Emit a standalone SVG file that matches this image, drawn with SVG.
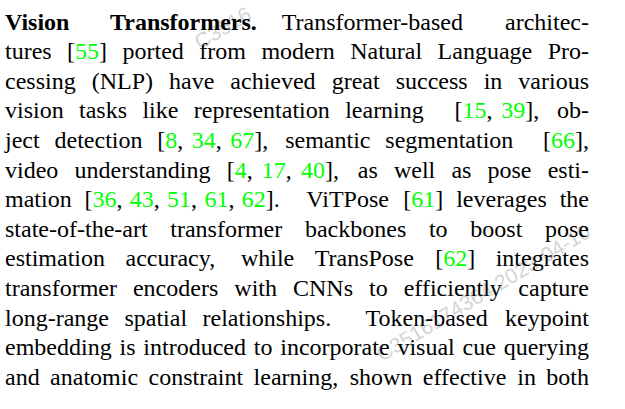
<svg xmlns="http://www.w3.org/2000/svg" width="625" height="409" viewBox="0 0 625 409">
<style>
.t{font-family:"Liberation Serif","Times New Roman",serif;font-size:24px;fill:#000}
.b{font-weight:bold}
.c{fill:#00ff00}
.wm{font-family:"Liberation Sans",Arial,sans-serif;font-size:21px;fill:#d4d4d4}
</style>
<rect width="625" height="409" fill="#fff"/>
<g id="watermark">
<text class="wm" transform="translate(200,50) rotate(-31)">C3516</text>
<text class="wm" transform="translate(382,362) rotate(-31)">C3516174364 2023-04-10</text>
</g>
<g id="paragraph">
<text class="t" y="29.5"><tspan x="5" class="b">Vision</tspan><tspan x="110" class="b">Transformers.</tspan><tspan x="281.7">Transformer-based</tspan><tspan x="505">architec-</tspan></text>
<text class="t" y="59.1"><tspan x="5">tures</tspan><tspan x="67.11">[<tspan class="c">55</tspan>]</tspan><tspan x="122.54">ported</tspan><tspan x="199.31">from</tspan><tspan x="261.42">modern</tspan><tspan x="350.19">Natural</tspan><tspan x="437.62">Language</tspan><tspan x="547.7">Pro-</tspan></text>
<text class="t" y="88.7"><tspan x="5">cessing</tspan><tspan x="91.68">(NLP)</tspan><tspan x="169.02">have</tspan><tspan x="230.35">achieved</tspan><tspan x="331.67">great</tspan><tspan x="395.67">success</tspan><tspan x="483.67">in</tspan><tspan x="518.36">various</tspan></text>
<text class="t" y="118.3"><tspan x="5">vision</tspan><tspan x="79.06">tasks</tspan><tspan x="142.44">like</tspan><tspan x="193.82">representation</tspan><tspan x="345.16">learning</tspan><tspan x="454.57">[<tspan class="c">15</tspan>,</tspan><tspan x="501.31"><tspan class="c">39</tspan>],</tspan><tspan x="557.02">ob-</tspan></text>
<text class="t" y="147.9"><tspan x="5">ject</tspan><tspan x="54.5">detection</tspan><tspan x="157.32">[<tspan class="c">8</tspan>,</tspan><tspan x="191.73"><tspan class="c">34</tspan>,</tspan><tspan x="230.15"><tspan class="c">67</tspan>],</tspan><tspan x="285.19">semantic</tspan><tspan x="385.35">segmentation</tspan><tspan x="543.02">[<tspan class="c">66</tspan>],</tspan></text>
<text class="t" y="177.5"><tspan x="5">video</tspan><tspan x="74.49">understanding</tspan><tspan x="226.63">[<tspan class="c">4</tspan>,</tspan><tspan x="261.84"><tspan class="c">17</tspan>,</tspan><tspan x="301.06"><tspan class="c">40</tspan>],</tspan><tspan x="357.75">as</tspan><tspan x="393.9">well</tspan><tspan x="451.39">as</tspan><tspan x="487.54">pose</tspan><tspan x="547.69">esti-</tspan></text>
<text class="t" y="207.1"><tspan x="5">mation</tspan><tspan x="84.58">[<tspan class="c">36</tspan>,</tspan><tspan x="129.84"><tspan class="c">43</tspan>,</tspan><tspan x="167.11"><tspan class="c">51</tspan>,</tspan><tspan x="204.38"><tspan class="c">61</tspan>,</tspan><tspan x="241.65"><tspan class="c">62</tspan>].</tspan><tspan x="306.37">ViTPose</tspan><tspan x="403.28">[<tspan class="c">61</tspan>]</tspan><tspan x="456.17">leverages</tspan><tspan x="559.7">the</tspan></text>
<text class="t" y="236.7"><tspan x="5">state-of-the-art</tspan><tspan x="170.3">transformer</tspan><tspan x="304.95">backbones</tspan><tspan x="428.94">to</tspan><tspan x="470.3">boost</tspan><tspan x="545">pose</tspan></text>
<text class="t" y="266.3"><tspan x="5">estimation</tspan><tspan x="125.51">accuracy,</tspan><tspan x="240.9">while</tspan><tspan x="314.73">TransPose</tspan><tspan x="435.21">[<tspan class="c">62</tspan>]</tspan><tspan x="495.69">integrates</tspan></text>
<text class="t" y="295.9"><tspan x="5">transformer</tspan><tspan x="132.98">encoders</tspan><tspan x="234.3">with</tspan><tspan x="292.99">CNNs</tspan><tspan x="369.01">to</tspan><tspan x="403.7">efficiently</tspan><tspan x="518.36">capture</tspan></text>
<text class="t" y="325.5"><tspan x="5">long-range</tspan><tspan x="124.43">spatial</tspan><tspan x="202.55">relationships.</tspan><tspan x="365.59">Token-based</tspan><tspan x="505.01">keypoint</tspan></text>
<text class="t" y="355.1"><tspan x="5">embedding</tspan><tspan x="119.48">is</tspan><tspan x="143.31">introduced</tspan><tspan x="253.78">to</tspan><tspan x="280.27">incorporate</tspan><tspan x="397.39">visual</tspan><tspan x="462.55">cue</tspan><tspan x="503.68">querying</tspan></text>
<text class="t" y="384.7"><tspan x="5">and</tspan><tspan x="50.09">anatomic</tspan><tspan x="148.5">constraint</tspan><tspan x="253.59">learning,</tspan><tspan x="349.77">shown</tspan><tspan x="422.86">effective</tspan><tspan x="517.24">in</tspan><tspan x="546.34">both</tspan></text>
</g>
</svg>
